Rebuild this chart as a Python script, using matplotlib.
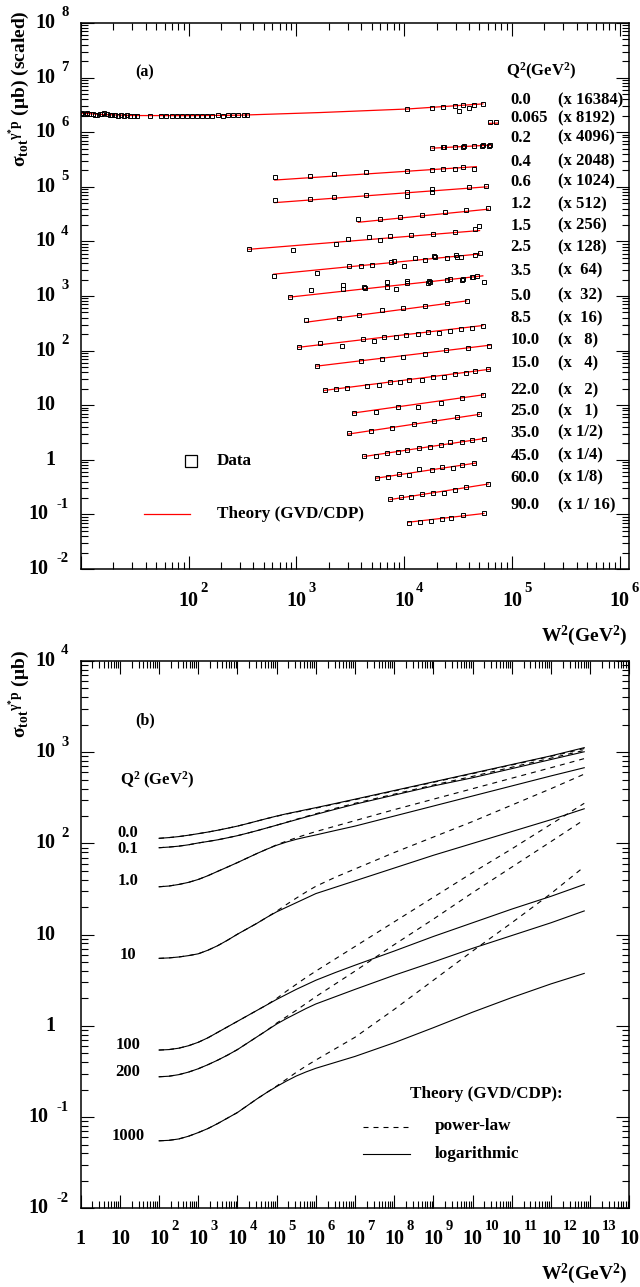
import numpy as np
import matplotlib
matplotlib.use("Agg")
import matplotlib.pyplot as plt
from matplotlib import transforms
from matplotlib.lines import Line2D
from matplotlib.ticker import LogLocator, NullFormatter

plt.rcParams['font.family'] = ['Liberation Serif', 'DejaVu Serif']
plt.rcParams['font.weight'] = 'bold'
plt.rcParams['mathtext.fontset'] = 'custom'
plt.rcParams['mathtext.rm'] = 'Liberation Serif:bold'
plt.rcParams['mathtext.bf'] = 'Liberation Serif:bold'
plt.rcParams['mathtext.it'] = 'Liberation Serif:italic:bold'
plt.rcParams['mathtext.default'] = 'rm'

# ---------------- panel (a) data: W^2 (GeV^2), scaled sigma (mub) ----------------
q2_labels_a = ["0.0", "0.065", "0.2", "0.4", "0.6", "1.2", "1.5", "2.5", "3.5", "5.0",
               "8.5", "10.0", "15.0", "22.0", "25.0", "35.0", "45.0", "60.0", "90.0"]
scale_labels_a = ["(x 16384)", "(x 8192)", "(x 4096)", "(x 2048)", "(x 1024)", "(x 512)",
                  "(x 256)", "(x 128)", "(x  64)", "(x  32)", "(x  16)", "(x   8)", "(x   4)",
                  "(x   2)", "(x   1)", "(x 1/2)", "(x 1/4)", "(x 1/8)", "(x 1/ 16)"]

w2_q00 = [10.2, 10.6, 11.0, 11.5, 12.0, 12.5, 13.1, 13.7, 14.3, 15.0, 15.8, 16.6, 17.5, 18.5,
          19.6, 20.7, 22.0, 23.4, 25.0, 26.8, 28.8, 31.0, 33.5, 43.7, 55.0, 61.7, 70.8, 77.6,
          87.1, 97.7, 107, 120, 132, 148, 166, 186, 209, 234, 257, 288, 324, 347,
          10700, 18200, 22900, 29500, 32400, 35500, 39800, 44700, 53700]
sig_q00 = [2.25e6, 2.20e6, 2.18e6, 2.22e6, 2.15e6, 2.12e6, 2.18e6, 2.10e6, 2.08e6, 2.14e6,
           2.20e6, 2.25e6, 2.12e6, 2.06e6, 2.10e6, 2.04e6, 2.02e6, 2.05e6, 2.00e6, 2.03e6,
           2.00e6, 2.02e6, 1.99e6, 2.02e6, 2.01e6, 2.02e6, 2.01e6, 2.02e6, 2.01e6, 2.02e6,
           2.01e6, 2.02e6, 2.02e6, 2.01e6, 2.02e6, 2.03e6, 2.02e6, 2.03e6, 2.04e6, 2.05e6,
           2.10e6, 2.10e6, 2.63e6, 2.82e6, 2.95e6, 3.02e6, 2.40e6, 3.09e6, 2.82e6, 3.16e6, 3.31e6]
w2_q065 = [63100, 70800]
sig_q065 = [1.54e6, 1.54e6]
w2_q02 = [18200, 22900, 23400, 29500, 35500, 36300, 44700, 52500, 53700, 61700, 63100]
sig_q02 = [5.13e5, 5.25e5, 5.37e5, 5.25e5, 5.37e5, 5.50e5, 5.50e5, 5.62e5, 5.75e5, 5.62e5, 5.89e5]
w2_q04 = [631, 1350, 2240, 4470, 10700, 18200, 22900, 29500, 35500, 44700]
sig_q04 = [1.53e5, 1.58e5, 1.70e5, 1.86e5, 1.95e5, 2.04e5, 2.14e5, 2.14e5, 2.29e5, 2.14e5]
w2_q06 = [631, 1350, 2240, 4470, 10700, 10700, 18200, 18200, 39800, 57500]
sig_q06 = [5.75e4, 6.03e4, 6.61e4, 7.08e4, 7.94e4, 6.92e4, 9.12e4, 8.13e4, 1.00e5, 1.02e5]
w2_q12 = [3760, 6030, 9120, 14800, 24000, 37200, 60300]
sig_q12 = [2.57e4, 2.57e4, 2.82e4, 3.02e4, 3.47e4, 3.72e4, 4.17e4]
w2_q15 = [363, 933, 2340, 3020, 4680, 6030, 7410, 11500, 18600, 29500, 45700, 49000]
sig_q15 = [7410, 6920, 8910, 11000, 11900, 10500, 12600, 13200, 13800, 15100, 16600, 19100]
w2_q25 = [617, 1550, 3090, 3980, 5010, 7590, 8130, 10000, 12600, 15500, 19100, 19500,
          25100, 30200, 30900, 33900, 45700, 50100]
sig_q25 = [2340, 2690, 3470, 3590, 3720, 4170, 4320, 3590, 4900, 4470, 5370, 5130,
           5010, 5620, 5250, 5250, 5620, 6030]
w2_q35 = [871, 1380, 2690, 2690, 4270, 4370, 6920, 6920, 8320, 10700, 10700, 16600, 17000,
          17400, 25100, 26900, 34700, 35500, 42700, 43700, 47900, 55000]
sig_q35 = [955, 1290, 1620, 1350, 1480, 1410, 1780, 1480, 1350, 1860, 1740, 1740, 1910,
           1820, 1950, 2090, 1950, 2090, 2190, 2240, 2340, 1820]
w2_q50 = [1230, 2510, 3800, 6170, 9770, 15500, 25100, 38000]
sig_q50 = [363, 389, 447, 550, 603, 661, 741, 794]
w2_q85 = [1050, 1660, 2630, 4170, 5250, 6460, 8320, 10500, 13500, 16600, 20900, 26900,
          33900, 42700, 53700]
sig_q85 = [117, 140, 120, 166, 151, 174, 180, 195, 200, 216, 209, 229, 245, 257, 285]
w2_q100 = [1550, 3950, 6170, 9770, 15600, 24500, 39400, 61700]
sig_q100 = [52.5, 64.6, 70.2, 77.3, 86.7, 102.6, 110, 123]
w2_q150 = [1860, 2340, 2950, 4570, 5890, 7410, 9120, 11200, 14800, 18600, 23400, 29500,
           37200, 45700, 60300]
sig_q150 = [19.1, 19.5, 20.4, 22.9, 23.4, 26.3, 26.9, 29.5, 29.5, 33.1, 32.4, 37.2, 39.4,
            42.7, 45.7]
w2_q220 = [3430, 5500, 8710, 13500, 21900, 34700, 54300]
sig_q220 = [7.08, 7.59, 9.12, 9.33, 10.8, 13.5, 15.5]
w2_q250 = [3090, 4900, 7670, 12300, 19100, 30900, 49500]
sig_q250 = [3.05, 3.39, 3.89, 4.52, 5.13, 6.03, 6.92]
w2_q350 = [4270, 5500, 6920, 8710, 10700, 13800, 17400, 21900, 26900, 34700, 42700, 55000]
sig_q350 = [1.175, 1.175, 1.32, 1.41, 1.51, 1.62, 1.74, 1.84, 2.09, 2.14, 2.29, 2.45]
w2_q450 = [5620, 7080, 8910, 11200, 13800, 18200, 22400, 28200, 34700, 44700]
sig_q450 = [0.457, 0.490, 0.550, 0.537, 0.676, 0.646, 0.741, 0.716, 0.804, 0.885]
w2_q600 = [7410, 9330, 11700, 14800, 18600, 23400, 29500, 37200, 60300]
sig_q600 = [0.191, 0.204, 0.209, 0.234, 0.245, 0.251, 0.282, 0.316, 0.355]
w2_q900 = [11000, 14100, 17800, 22400, 27500, 35500, 55000]
sig_q900 = [0.0708, 0.0741, 0.0759, 0.0813, 0.0851, 0.0977, 0.105]

# theory (GVD/CDP) curves of panel (a)
th_w2_q00 = [10, 15, 30, 100, 300, 1660, 10700, 53700]
th_sig_q00 = [2.24e6, 2.12e6, 2.02e6, 2.01e6, 2.05e6, 2.29e6, 2.66e6, 3.30e6]
th_w2_q065 = [61700, 74100]
th_sig_q065 = [1.45e6, 1.47e6]
th_w2_q02 = [18200, 63100]
th_sig_q02 = [5.10e5, 5.80e5]
th_w2_q04 = [631, 46800]
th_sig_q04 = [1.33e5, 2.34e5]
th_w2_q06 = [631, 58900]
th_sig_q06 = [5.13e4, 1.00e5]
th_w2_q12 = [3760, 60300]
th_sig_q12 = [2.24e4, 3.89e4]
th_w2_q15 = [363, 50100]
th_sig_q15 = [7160, 15800]
th_w2_q25 = [617, 50100]
th_sig_q25 = [2510, 5890]
th_w2_q35 = [871, 53700]
th_sig_q35 = [955, 2340]
th_w2_q50 = [1230, 38000]
th_sig_q50 = [331, 813]
th_w2_q85 = [1050, 53700]
th_sig_q85 = [115, 288]
th_w2_q100 = [1550, 63100]
th_sig_q100 = [52, 126]
th_w2_q150 = [1800, 63100]
th_sig_q150 = [18.6, 45.7]
th_w2_q220 = [3400, 54300]
th_sig_q220 = [7.2, 15.5]
th_w2_q250 = [3000, 50000]
th_sig_q250 = [2.95, 6.8]
th_w2_q350 = [4270, 55000]
th_sig_q350 = [1.15, 2.45]
th_w2_q450 = [5500, 46000]
th_sig_q450 = [0.46, 0.87]
th_w2_q600 = [7410, 60300]
th_sig_q600 = [0.187, 0.36]
th_w2_q900 = [11000, 55000]
th_sig_q900 = [0.072, 0.104]

# ---------------- panel (b) data (read in decades: log10 W^2, log10 sigma/mub) ----------------
q2_labels_b = ["0.0", "0.1", "1.0", "10", "100", "200", "1000"]
dec_w2_b = [2, 2.25, 2.5, 2.75, 3, 3.25, 3.5, 3.75, 4, 4.25, 4.5, 4.75, 5, 5.25, 5.5, 5.75,
            6, 6.5, 7, 8, 9, 10, 11, 12, 12.85]
dec_log_q0 = [2.056, 2.064, 2.075, 2.09, 2.107, 2.125, 2.145, 2.167, 2.19, 2.217, 2.245,
              2.273, 2.30, 2.325, 2.347, 2.37, 2.392, 2.438, 2.485, 2.58, 2.675, 2.77,
              2.865, 2.96, 3.05]
dec_pow_q0 = [2.056, 2.064, 2.075, 2.09, 2.107, 2.125, 2.145, 2.167, 2.19, 2.217, 2.245,
              2.273, 2.298, 2.322, 2.344, 2.366, 2.387, 2.433, 2.48, 2.575, 2.67, 2.765,
              2.86, 2.955, 3.04]
dec_log_q01 = [1.953, 1.96, 1.97, 1.985, 2.005, 2.022, 2.04, 2.062, 2.085, 2.112, 2.14,
               2.17, 2.20, 2.23, 2.26, 2.29, 2.318, 2.375, 2.43, 2.53, 2.63, 2.72, 2.82,
               2.92, 3.005]
dec_pow_q01 = [1.953, 1.96, 1.97, 1.985, 2.005, 2.022, 2.04, 2.062, 2.085, 2.112, 2.14,
               2.17, 2.20, 2.232, 2.264, 2.295, 2.325, 2.385, 2.44, 2.54, 2.64, 2.735,
               2.835, 2.935, 3.02]
dec_log_q1 = [1.525, 1.533, 1.55, 1.573, 1.605, 1.647, 1.695, 1.742, 1.79, 1.84, 1.89,
              1.937, 1.98, 2.015, 2.045, 2.07, 2.093, 2.142, 2.19, 2.30, 2.41, 2.52, 2.63,
              2.74, 2.83]
dec_pow_q1 = [1.525, 1.533, 1.55, 1.573, 1.605, 1.647, 1.695, 1.742, 1.79, 1.84, 1.89,
              1.937, 1.985, 2.025, 2.062, 2.097, 2.13, 2.19, 2.25, 2.37, 2.485, 2.60,
              2.715, 2.83, 2.93]
dec_log_q10 = [0.74, 0.745, 0.755, 0.77, 0.79, 0.83, 0.88, 0.94, 1.005, 1.065, 1.125, 1.19,
               1.25, 1.30, 1.35, 1.40, 1.45, 1.52, 1.59, 1.73, 1.87, 2.0, 2.13, 2.26, 2.38]
dec_pow_q10 = [0.74, 0.745, 0.755, 0.77, 0.79, 0.83, 0.88, 0.94, 1.005, 1.065, 1.125, 1.19,
               1.257, 1.33, 1.40, 1.467, 1.53, 1.63, 1.72, 1.90, 2.07, 2.24, 2.42, 2.60, 2.76]
dec_log_q100 = [-0.265, -0.26, -0.245, -0.218, -0.18, -0.13, -0.07, -0.01, 0.05, 0.11, 0.17,
                0.23, 0.29, 0.345, 0.40, 0.45, 0.50, 0.585, 0.665, 0.82, 0.98, 1.13, 1.28,
                1.42, 1.55]
dec_pow_q100 = [-0.265, -0.26, -0.245, -0.218, -0.18, -0.13, -0.07, -0.01, 0.05, 0.11, 0.17,
                0.23, 0.30, 0.38, 0.455, 0.53, 0.60, 0.735, 0.87, 1.14, 1.41, 1.68, 1.94,
                2.21, 2.44]
dec_log_q200 = [-0.558, -0.552, -0.535, -0.507, -0.47, -0.425, -0.375, -0.32, -0.26, -0.19,
                -0.12, -0.05, 0.02, 0.08, 0.135, 0.19, 0.24, 0.32, 0.40, 0.555, 0.70, 0.85,
                0.99, 1.13, 1.26]
dec_pow_q200 = [-0.558, -0.552, -0.535, -0.507, -0.47, -0.425, -0.375, -0.32, -0.26, -0.19,
                -0.12, -0.05, 0.03, 0.10, 0.17, 0.245, 0.32, 0.46, 0.60, 0.89, 1.17, 1.46,
                1.74, 2.02, 2.26]
dec_log_q1000 = [-1.26, -1.255, -1.24, -1.21, -1.17, -1.125, -1.07, -1.01, -0.95, -0.875,
                 -0.80, -0.73, -0.665, -0.605, -0.55, -0.505, -0.465, -0.40, -0.335, -0.185,
                 -0.02, 0.15, 0.31, 0.46, 0.575]
dec_pow_q1000 = [-1.26, -1.255, -1.24, -1.21, -1.17, -1.125, -1.07, -1.01, -0.95, -0.875,
                 -0.80, -0.73, -0.66, -0.585, -0.51, -0.44, -0.375, -0.25, -0.125, 0.18,
                 0.50, 0.82, 1.13, 1.45, 1.745]

# ---------------- layout ----------------
W, H = 640, 1287
fig = plt.figure(figsize=(W / 100, H / 100), dpi=100)


def fx(px):
    return px / W


def fy(py):
    return 1 - py / H


L, R = 80.7, 629.3
ax1 = fig.add_axes([fx(L), fy(569), (R - L) / W, (569 - 23) / H])
ax2 = fig.add_axes([fx(L), fy(1208.3), (R - L) / W, (1208.3 - 661) / H])

ax1.set_xscale('log'); ax1.set_yscale('log')
ax2.set_xscale('log'); ax2.set_yscale('log')
ax1.set_xlim(10, 1.227e6); ax1.set_ylim(1e-2, 1e8)
ax2.set_xlim(1, 1e14); ax2.set_ylim(1e-2, 1e4)

for ax in (ax1, ax2):
    for axis in (ax.xaxis, ax.yaxis):
        axis.set_major_locator(LogLocator(base=10, numticks=40))
        axis.set_minor_locator(LogLocator(base=10, subs=np.arange(2, 10), numticks=400))
        axis.set_major_formatter(NullFormatter())
        axis.set_minor_formatter(NullFormatter())
    ax.tick_params(which='both', direction='in', top=True, right=True, width=0.8,
                   labelbottom=False, labelleft=False, colors='black')
    ax.tick_params(which='major', length=9.7)
    ax.tick_params(which='minor', length=5.0)
    for s in ax.spines.values():
        s.set_linewidth(1.1)

# ---- panel (a) plotting ----
data_a = [(w2_q00, sig_q00), (w2_q065, sig_q065), (w2_q02, sig_q02), (w2_q04, sig_q04),
          (w2_q06, sig_q06), (w2_q12, sig_q12), (w2_q15, sig_q15), (w2_q25, sig_q25),
          (w2_q35, sig_q35), (w2_q50, sig_q50), (w2_q85, sig_q85), (w2_q100, sig_q100),
          (w2_q150, sig_q150), (w2_q220, sig_q220), (w2_q250, sig_q250), (w2_q350, sig_q350),
          (w2_q450, sig_q450), (w2_q600, sig_q600), (w2_q900, sig_q900)]
theory_a = [(th_w2_q00, th_sig_q00), (th_w2_q065, th_sig_q065), (th_w2_q02, th_sig_q02),
            (th_w2_q04, th_sig_q04), (th_w2_q06, th_sig_q06), (th_w2_q12, th_sig_q12),
            (th_w2_q15, th_sig_q15), (th_w2_q25, th_sig_q25), (th_w2_q35, th_sig_q35),
            (th_w2_q50, th_sig_q50), (th_w2_q85, th_sig_q85), (th_w2_q100, th_sig_q100),
            (th_w2_q150, th_sig_q150), (th_w2_q220, th_sig_q220), (th_w2_q250, th_sig_q250),
            (th_w2_q350, th_sig_q350), (th_w2_q450, th_sig_q450), (th_w2_q600, th_sig_q600),
            (th_w2_q900, th_sig_q900)]

for (tw, ts) in theory_a:
    ax1.plot(tw, ts, color='#ff0000', lw=0.9, zorder=2)
for (dw, ds) in data_a:
    ax1.plot(dw, ds, linestyle='none', marker='s', ms=3.1, mfc='none', mec='black',
             mew=0.7, zorder=3)

# right-hand labels of panel (a)
label_rows_a = [100, 118.3, 137.7, 161.7, 181.7, 204.3, 225.7, 247.3, 270.7, 295.7,
                318.3, 340, 363.3, 390, 411, 432.7, 455.7, 477.7, 505]
for lab, sc, py in zip(q2_labels_a, scale_labels_a, label_rows_a):
    fig.text(fx(510.5), fy(py), lab, ha='left', va='center', fontsize=12, fontweight='bold')
    fig.text(fx(557.5), fy(py), sc, ha='left', va='center', fontsize=12, fontweight='bold')
fig.text(fx(505.5), fy(71.5), r'Q$^{2}$(GeV$^{2}$)', ha='left', va='center', fontsize=12)
fig.text(fx(145), fy(72), '(a)', ha='center', va='center', fontsize=11.5)

# legend of panel (a)
fig.add_artist(Line2D([fx(190.5)], [fy(461)], transform=fig.transFigure, marker='s',
                      ms=9.3, mfc='none', mec='black', mew=0.9, linestyle='none'))
fig.text(fx(217), fy(461), 'Data', ha='left', va='center', fontsize=12.3)
fig.add_artist(Line2D([fx(144), fx(190)], [fy(514), fy(514)], transform=fig.transFigure,
                      color='#ff0000', lw=0.9))
fig.text(fx(217), fy(514), 'Theory (GVD/CDP)', ha='left', va='center', fontsize=12.3)

# ---- panel (b) plotting ----
w2_b = 10.0 ** np.array(dec_w2_b)
curves_log = [dec_log_q0, dec_log_q01, dec_log_q1, dec_log_q10, dec_log_q100,
              dec_log_q200, dec_log_q1000]
curves_pow = [dec_pow_q0, dec_pow_q01, dec_pow_q1, dec_pow_q10, dec_pow_q100,
              dec_pow_q200, dec_pow_q1000]
for c in curves_log:
    ax2.plot(w2_b, 10.0 ** np.array(c), color='black', lw=0.8, solid_joinstyle='round')
for c in curves_pow:
    ax2.plot(w2_b, 10.0 ** np.array(c), color='black', lw=0.8, linestyle=(0, (4.5, 4.5)))

label_rows_b = [833, 849, 881, 955, 1045, 1072, 1136]
for lab, py in zip(q2_labels_b, label_rows_b):
    fig.text(fx(128), fy(py), lab, ha='center', va='center', fontsize=12)
fig.text(fx(157), fy(780), r'Q$^{2}$ (GeV$^{2}$)', ha='center', va='center', fontsize=12)
fig.text(fx(145), fy(720), '(b)', ha='center', va='center', fontsize=11.5)

fig.text(fx(410), fy(1093.5), 'Theory (GVD/CDP):', ha='left', va='center', fontsize=12.3)
fig.add_artist(Line2D([fx(363), fx(410)], [fy(1126.5), fy(1126.5)], transform=fig.transFigure,
                      color='black', lw=0.8, linestyle=(0, (4.5, 4.5))))
fig.text(fx(435), fy(1126.5), 'power-law', ha='left', va='center', fontsize=12.3)
fig.add_artist(Line2D([fx(363), fx(410)], [fy(1153.5), fy(1153.5)], transform=fig.transFigure,
                      color='black', lw=0.8))
fig.text(fx(435), fy(1153.5), 'logarithmic', ha='left', va='center', fontsize=12.3)

# ---- tick labels ----
BASE_FS, EXP_FS = 14.5, 10.5


def ylabels(ax, exps):
    tr = transforms.blended_transform_factory(fig.transFigure, ax.transData)
    tr_e = transforms.offset_copy(tr, fig=fig, x=0, y=10, units='dots')
    for n in exps:
        v = 10.0 ** n
        if n in (0, 1):
            ax.text(fx(55), v, '1' if n == 0 else '10', transform=tr, ha='right',
                    va='center', fontsize=BASE_FS)
        else:
            base_r = 48 if n < 0 else 55
            ax.text(fx(base_r), v, '10', transform=tr, ha='right', va='center',
                    fontsize=BASE_FS)
            ax.text(fx(68.5), v, str(n), transform=tr_e, ha='right', va='center',
                    fontsize=EXP_FS)


def xlabels(ax, exps, py_base, py_exp):
    tr = transforms.blended_transform_factory(ax.transData, fig.transFigure)
    tr_e = transforms.offset_copy(tr, fig=fig, x=12, y=0, units='dots')
    for n in exps:
        v = 10.0 ** n
        if n in (0, 1):
            ax.text(v, fy(py_base), '1' if n == 0 else '10', transform=tr, ha='center',
                    va='center', fontsize=BASE_FS)
        else:
            ax.text(v, fy(py_base), '10', transform=tr, ha='center', va='center',
                    fontsize=BASE_FS)
            ax.text(v, fy(py_exp), str(n), transform=tr_e, ha='left', va='center',
                    fontsize=EXP_FS)


ylabels(ax1, range(-2, 9))
ylabels(ax2, range(-2, 5))
xlabels(ax1, range(2, 7), 600.5, 588.5)
xlabels(ax2, range(0, 15), 1238.5, 1227)

# ---- axis titles ----
fig.text(fx(628), fy(636), r'W$^{2}$(GeV$^{2}$)', ha='right', va='center', fontsize=14)
fig.text(fx(628), fy(1274), r'W$^{2}$(GeV$^{2}$)', ha='right', va='center', fontsize=14)
fig.text(fx(19), fy(89), r'$\sigma_{tot}{}^{\gamma^{*}p}$ (μb) (scaled)', rotation=90,
         ha='center', va='center', fontsize=14)
fig.text(fx(19), fy(694), r'$\sigma_{tot}{}^{\gamma^{*}p}$ (μb)', rotation=90,
         ha='center', va='center', fontsize=14)

fig.savefig('out.png', dpi=100)
